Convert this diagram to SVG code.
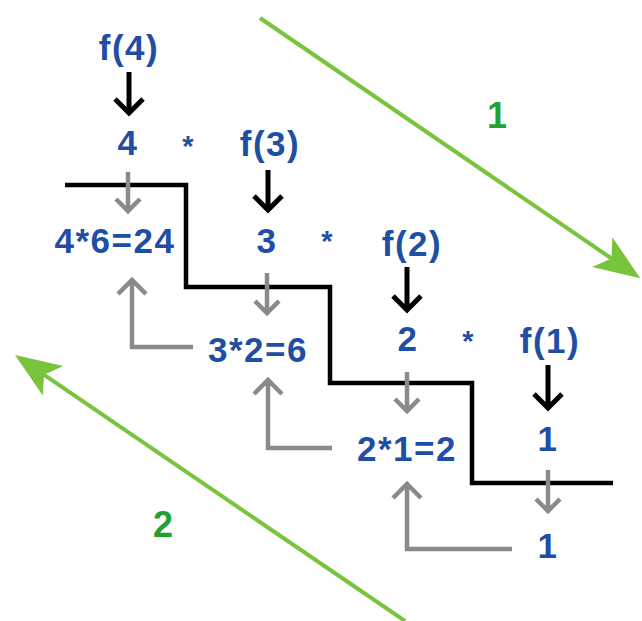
<svg xmlns="http://www.w3.org/2000/svg" width="642" height="621" viewBox="0 0 642 621">
<defs>
<style>
.t{font-family:"Liberation Sans",Arial,sans-serif;font-weight:bold;font-size:35px;fill:#1f4ea5;text-anchor:middle;letter-spacing:1.5px}
.s{font-family:"Liberation Sans",Arial,sans-serif;font-weight:bold;font-size:29px;fill:#1f4ea5;text-anchor:middle}
.g{font-family:"Liberation Sans",Arial,sans-serif;font-weight:bold;font-size:36px;fill:#22a030;text-anchor:middle}
.blk{fill:none;stroke:#000;stroke-width:5}
.gry{fill:none;stroke:#8a8a8a;stroke-width:4.5}
.stair{fill:none;stroke:#000;stroke-width:4.5}
.grn{fill:none;stroke:#78c43c;stroke-width:4;marker-end:url(#gh)}
</style>
<marker id="gh" markerUnits="userSpaceOnUse" markerWidth="60" markerHeight="40" viewBox="-40 -20 60 40" refX="0" refY="0" orient="auto">
<path d="M10,0 L-36,-18 L-25,0 L-36,18 Z" fill="#78c43c"/>
</marker>
</defs>
<rect width="642" height="621" fill="#fff"/>
<g id="connectors">
<path class="stair" d="M65,185 H186 V287 H330 V383 H472 V483 H613"/>
<path class="blk" d="M129,72 V113 M115,99 L129,113 L143,99"/>
<path class="blk" d="M268,170 V210 M254,196 L268,210 L282,196"/>
<path class="blk" d="M407,267 V310 M393,296 L407,310 L421,296"/>
<path class="blk" d="M548,365 V408 M534,394 L548,408 L562,394"/>
<path class="gry" d="M128,172 V211 M116,199 L128,211 L140,199"/>
<path class="gry" d="M267,273 V313 M255,301 L267,313 L279,301"/>
<path class="gry" d="M407,372 V411 M395,399 L407,411 L419,399"/>
<path class="gry" d="M548,470 V511 M536,499 L548,511 L560,499"/>
<path class="gry" d="M193,347 H132 V280 M118,294 L132,280 L146,294"/>
<path class="gry" d="M332,448 H268 V380 M254,394 L268,380 L282,394"/>
<path class="gry" d="M512,549 H407 V484 M393,498 L407,484 L421,498"/>
<line class="grn" x1="260" y1="18" x2="632" y2="272.5"/>
<line class="grn" x1="405" y1="621" x2="23.3" y2="360.6"/>
</g>
<g id="f4"><text class="t" x="129" y="60">f(4)</text></g>
<g id="n4"><text class="t" x="128" y="155">4</text></g>
<g id="m1"><text class="s" x="188" y="156">*</text></g>
<g id="f3"><text class="t" x="270" y="156">f(3)</text></g>
<g id="r24"><text class="t" x="115" y="253">4*6=24</text></g>
<g id="n3"><text class="t" x="267" y="253">3</text></g>
<g id="m2"><text class="s" x="327" y="251">*</text></g>
<g id="f2"><text class="t" x="412" y="256">f(2)</text></g>
<g id="r6"><text class="t" x="258" y="362">3*2=6</text></g>
<g id="n2"><text class="t" x="408" y="351">2</text></g>
<g id="m3"><text class="s" x="468" y="351">*</text></g>
<g id="f1"><text class="t" x="550" y="353">f(1)</text></g>
<g id="n1a"><text class="t" x="548" y="451">1</text></g>
<g id="r2"><text class="t" x="407" y="461">2*1=2</text></g>
<g id="n1b"><text class="t" x="548" y="558">1</text></g>
<g id="lbl1"><text class="g" x="497" y="128">1</text></g>
<g id="lbl2"><text class="g" x="163" y="537">2</text></g>
</svg>
